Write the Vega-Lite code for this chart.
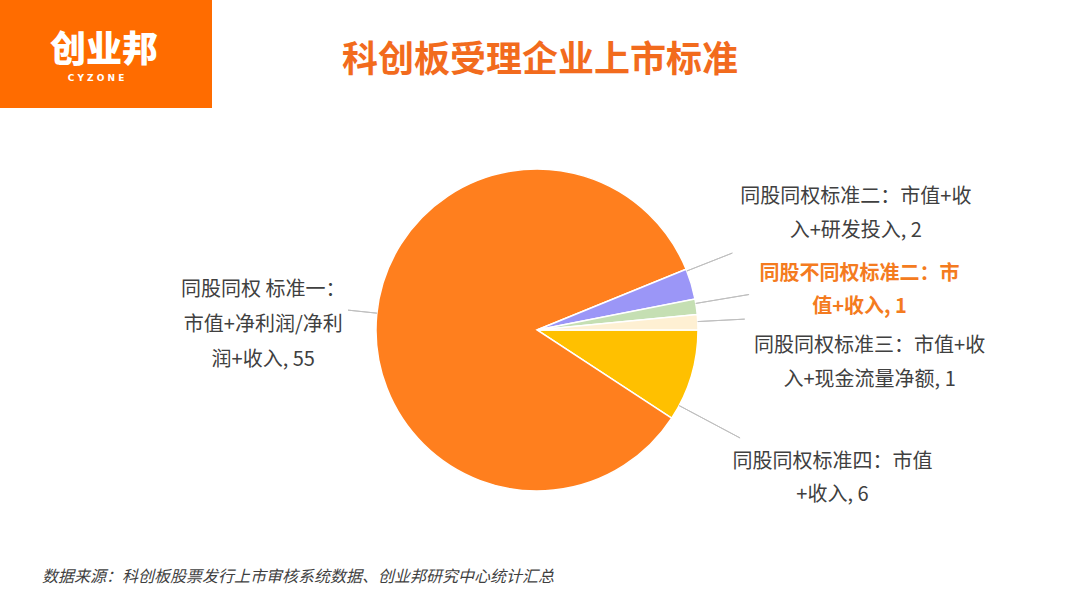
{
  "$schema": "https://vega.github.io/schema/vega-lite/v6.json",
  "padding": 0,
  "autosize": {"type": "pad"},
  "background": "#FFFFFF",
  "bounds": "flush",
  "spacing": 0,
  "config": {"view": {"stroke": null}, "concat": {"spacing": 0}},
  "vconcat": [
    {
      "width": 212,
      "height": 108,
      "view": {"fill": "#FF6C00", "stroke": null},
      "data": {"values": [{"t": "创业邦", "s": "C Y Z O N E", "h": "科创板受理企业上市标准"}]},
      "layer": [
        {
          "mark": {"type": "text", "x": 104, "y": 51, "align": "center", "baseline": "middle", "font": "Noto Sans CJK SC", "fontSize": 36, "fontWeight": 900, "fill": "#FFFFFF"},
          "encoding": {"text": {"field": "t"}}
        },
        {
          "mark": {"type": "text", "x": 96, "y": 78, "align": "center", "baseline": "middle", "font": "DejaVu Sans", "fontSize": 9, "fontWeight": "bold", "fill": "#FFFFFF"},
          "encoding": {"text": {"field": "s"}}
        },
        {
          "mark": {"type": "text", "x": 540, "y": 61, "align": "center", "baseline": "middle", "font": "Noto Sans CJK SC", "fontSize": 36, "fontWeight": "bold", "fill": "#F26B1D"},
          "encoding": {"text": {"field": "h"}}
        }
      ]
    },
    {
      "width": 1074,
      "height": 444,
      "data": {
        "values": [
          {"key": "y", "order": 1, "value": 6, "name": "同股同权标准四", "label": "同股同权标准四：市值\n+收入, 6"},
          {"key": "o", "order": 2, "value": 55, "name": "同股同权标准一", "label": "同股同权 标准一：\n市值+净利润/净利\n润+收入, 55"},
          {"key": "p", "order": 3, "value": 2, "name": "同股同权标准二", "label": "同股同权标准二：市值+收\n入+研发投入, 2"},
          {"key": "g", "order": 4, "value": 1, "name": "同股不同权标准二", "label": "同股不同权标准二：市\n值+收入, 1"},
          {"key": "c", "order": 5, "value": 1, "name": "同股同权标准三", "label": "同股同权标准三：市值+收\n入+现金流量净额, 1"}
        ]
      },
      "transform": [
        {"stack": "value", "groupby": [], "sort": [{"field": "order", "order": "ascending"}], "as": ["v0", "v1"]}
      ],
      "layer": [
        {
          "mark": {"type": "arc", "outerRadius": 161, "stroke": "#FFFFFF", "strokeWidth": 1.5},
          "encoding": {
            "theta": {"field": "v0", "type": "quantitative", "scale": {"domain": [0, 65], "range": [1.5707963, 7.8539816]}},
            "theta2": {"field": "v1"},
            "color": {"field": "key", "type": "nominal", "legend": null,
              "scale": {"domain": ["y", "o", "p", "g", "c"], "range": ["#FFC000", "#FF7F1E", "#9B96F7", "#C5DFB3", "#FEF0D3"]}}
          }
        },
        {
          "transform": [{"filter": "datum.key === 'o'"}],
          "mark": {"type": "arc", "outerRadius": 190, "innerRadius": 161, "thetaOffset": 2.66633, "theta2Offset": -2.6502, "fill": "transparent", "stroke": "#BFBFBF", "strokeWidth": 1},
          "encoding": {"theta": {"field": "v0", "type": "quantitative"}, "theta2": {"field": "v1"}}
        },
        {
          "transform": [{"filter": "datum.key === 'p'"}],
          "mark": {"type": "arc", "outerRadius": 210, "innerRadius": 161, "thetaOffset": 0.011411, "theta2Offset": -0.181918, "fill": "transparent", "stroke": "#BFBFBF", "strokeWidth": 1},
          "encoding": {"theta": {"field": "v0", "type": "quantitative"}, "theta2": {"field": "v1"}}
        },
        {
          "transform": [{"filter": "datum.key === 'g'"}],
          "mark": {"type": "arc", "outerRadius": 215, "innerRadius": 161, "thetaOffset": 0.027522, "theta2Offset": -0.069142, "fill": "transparent", "stroke": "#BFBFBF", "strokeWidth": 1},
          "encoding": {"theta": {"field": "v0", "type": "quantitative"}, "theta2": {"field": "v1"}}
        },
        {
          "transform": [{"filter": "datum.key === 'c'"}],
          "mark": {"type": "arc", "outerRadius": 208, "innerRadius": 161, "thetaOffset": 0.044305, "theta2Offset": -0.05236, "fill": "transparent", "stroke": "#BFBFBF", "strokeWidth": 1},
          "encoding": {"theta": {"field": "v0", "type": "quantitative"}, "theta2": {"field": "v1"}}
        },
        {
          "transform": [{"filter": "datum.key === 'y'"}],
          "mark": {"type": "arc", "outerRadius": 230, "innerRadius": 161, "thetaOffset": 0.488692, "theta2Offset": -0.091294, "fill": "transparent", "stroke": "#BFBFBF", "strokeWidth": 1},
          "encoding": {"theta": {"field": "v0", "type": "quantitative"}, "theta2": {"field": "v1"}}
        },
        {
          "mark": {"type": "text", "radius": 274, "dx": -1, "dy": -14, "align": "center", "baseline": "middle", "lineBreak": "\n", "lineHeight": 35, "font": "Noto Sans CJK SC", "fontSize": 20, "fill": "#404040"},
          "encoding": {
            "theta": {"field": "value", "type": "quantitative", "stack": true},
            "order": {"field": "order", "type": "quantitative"},
            "detail": {"field": "key", "type": "nominal"},
            "text": {"condition": {"test": "datum.key === 'o'", "field": "label"}, "value": ""}
          }
        },
        {
          "mark": {"type": "text", "radius": 339, "dx": -6, "dy": -36, "align": "center", "baseline": "middle", "lineBreak": "\n", "lineHeight": 34, "font": "Noto Sans CJK SC", "fontSize": 20, "fill": "#404040"},
          "encoding": {
            "theta": {"field": "value", "type": "quantitative", "stack": true},
            "order": {"field": "order", "type": "quantitative"},
            "detail": {"field": "key", "type": "nominal"},
            "text": {"condition": {"test": "datum.key === 'p'", "field": "label"}, "value": ""}
          }
        },
        {
          "mark": {"type": "text", "radius": 326, "dx": 0, "dy": -9, "align": "center", "baseline": "middle", "lineBreak": "\n", "lineHeight": 33, "font": "Noto Sans CJK SC", "fontSize": 20, "fontWeight": "bold", "fill": "#F47B20"},
          "encoding": {
            "theta": {"field": "value", "type": "quantitative", "stack": true},
            "order": {"field": "order", "type": "quantitative"},
            "detail": {"field": "key", "type": "nominal"},
            "text": {"condition": {"test": "datum.key === 'g'", "field": "label"}, "value": ""}
          }
        },
        {
          "mark": {"type": "text", "radius": 332, "dx": 1, "dy": 32, "align": "center", "baseline": "middle", "lineBreak": "\n", "lineHeight": 34, "font": "Noto Sans CJK SC", "fontSize": 20, "fill": "#404040"},
          "encoding": {
            "theta": {"field": "value", "type": "quantitative", "stack": true},
            "order": {"field": "order", "type": "quantitative"},
            "detail": {"field": "key", "type": "nominal"},
            "text": {"condition": {"test": "datum.key === 'c'", "field": "label"}, "value": ""}
          }
        },
        {
          "mark": {"type": "text", "radius": 325, "dx": -16, "dy": 39, "align": "center", "baseline": "middle", "lineBreak": "\n", "lineHeight": 33, "font": "Noto Sans CJK SC", "fontSize": 20, "fill": "#404040"},
          "encoding": {
            "theta": {"field": "value", "type": "quantitative", "stack": true},
            "order": {"field": "order", "type": "quantitative"},
            "detail": {"field": "key", "type": "nominal"},
            "text": {"condition": {"test": "datum.key === 'y'", "field": "label"}, "value": ""}
          }
        }
      ]
    },
    {
      "width": 1080,
      "height": 56,
      "data": {"values": [{"t": "数据来源：科创板股票发行上市审核系统数据、创业邦研究中心统计汇总"}]},
      "mark": {"type": "text", "x": 42, "y": 25, "align": "left", "baseline": "middle", "font": "Noto Sans CJK SC", "fontSize": 16, "fontStyle": "italic", "fill": "#3F3F3F"},
      "encoding": {"text": {"field": "t"}}
    }
  ]
}
